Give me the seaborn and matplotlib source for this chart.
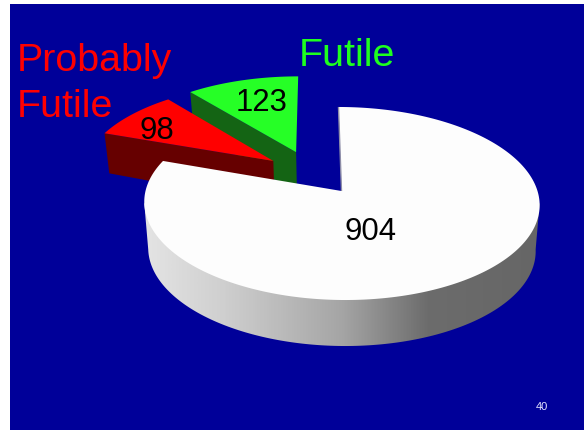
import numpy as np
import matplotlib
matplotlib.use("Agg")
import matplotlib.pyplot as plt
from matplotlib.colors import LinearSegmentedColormap
from matplotlib.patches import Polygon, Rectangle
import seaborn as sns

# Data
categories = ["Not futile", "Probably Futile", "Futile"]
counts = [904, 98, 123]
value_labels = ["904", "98", "123"]
page_number = "40"

# Styles
sns.set_theme(style="white")
plt.rcParams["font.family"] = ["Liberation Sans", "DejaVu Sans"]
BG = "#000099"
top_colors = ["#FDFDFD", "#FF0000", "#26FF26"]
side_colors = [None, "#660000", "#146414"]
label_colors = [None, "#FF0000", "#1EFF1E"]
shade_stops = [(0.0, "#E4E4E4"), (0.2, "#CFCFCF"), (0.5, "#A5A5A5"),
               (0.72, "#6C6C6C"), (1.0, "#666666")]

# Projection of the tilted disc
CX, CY = 341.5, 192.0
A, B, K, S = 196.0, 94.9, 0.1295, -3.4
explode = [(0.0, 0.0), (-0.357, 0.330), (-0.237, 0.432)]


def project(X, Y, lower=False):
    X, Y = np.asarray(X, float), np.asarray(Y, float)
    d = 1 + K * Y
    scale = 0.98 if lower else 1.0
    x = CX + scale * (A * X + S * Y) / d
    y = CY - B * Y / d
    if lower:
        y = y + 46 - 9 * np.clip(Y, 0, None)
    return x, y


def rim(t1, t2, off, lower=False, n=200):
    t = np.radians(np.linspace(t1, t2, n))
    return project(off[0] + np.cos(t), off[1] + np.sin(t), lower)


fig = plt.figure(figsize=(5.84, 4.31), dpi=100, facecolor="white")
ax = fig.add_axes([0, 0, 1, 1])
ax.set_xlim(0, 584)
ax.set_ylim(431, 0)
ax.axis("off")
ax.add_patch(Rectangle((10, 5), 574, 426, fc=BG, ec="none", zorder=0))

# Angles on the disc, clockwise from 12 o'clock: large wedge, then red, then green
sweep = np.array(counts) / sum(counts) * 360
ends = 90 - np.cumsum(sweep) + 360
wedge_lo = [ends[0] - 360, ends[1], ends[2]]
wedge_hi = [90.0, ends[0], ends[1]]

z = 2
for i in (2, 1):
    off = explode[i]
    c, s = np.cos(np.radians(wedge_hi[i])), np.sin(np.radians(wedge_hi[i]))
    rx, ry = project(off[0] + c, off[1] + s)
    rx2, ry2 = project(off[0] + c, off[1] + s, True)
    px, py = project(off[0], off[1])
    px2, py2 = project(off[0], off[1], True)
    ax.add_patch(Polygon([(rx, ry), (px, py), (px2, py2), (rx2, ry2)],
                         fc=side_colors[i], ec="none", zorder=z))
    tx, ty = rim(wedge_lo[i], wedge_hi[i], off)
    ax.add_patch(Polygon(np.r_[[[px, py]], np.c_[tx, ty]],
                         fc=top_colors[i], ec="none", zorder=z + 0.5))
    z += 1

# Large wedge: shaded wall between the silhouette points, then its top
ax0, ay0 = project(0, 0)
ux, uy = rim(187.4, 352.6, explode[0])
lx, ly = rim(187.4, 352.6, explode[0], True)
wall = Polygon(np.r_[np.c_[lx, ly], [[ux[-1], uy[-1]], [ax0, ay0], [ux[0], uy[0]]]],
               fc="none", ec="none", zorder=5)
ax.add_patch(wall)
cmap = LinearSegmentedColormap.from_list("wall", shade_stops)
grad = ax.imshow(np.linspace(0, 1, 400)[None, :], cmap=cmap, aspect="auto",
                 extent=(144, 540, 400, 100), zorder=5)
grad.set_clip_path(wall)
ax.set_xlim(0, 584)
ax.set_ylim(431, 0)

tx, ty = rim(wedge_lo[0], wedge_hi[0], explode[0], n=400)
ax.add_patch(Polygon(np.r_[[[ax0, ay0]], np.c_[tx, ty]],
                     fc=top_colors[0], ec="none", zorder=6))
ex, ey = project(0, 1)
ax.plot([ax0, ex], [ay0, ey], color="#8E8EA8", lw=1.0, zorder=6.5, solid_capstyle="butt")

# Text
ax.text(17, 71, "Probably", color=label_colors[1], fontsize=28.4, ha="left", va="baseline", zorder=8)
ax.text(17, 117, "Futile", color=label_colors[1], fontsize=28.4, ha="left", va="baseline", zorder=8)
ax.text(299, 66, categories[2], color=label_colors[2], fontsize=28.4, ha="left", va="baseline", zorder=8)
ax.text(371, 240, value_labels[0], color="black", fontsize=22.4, ha="center", va="baseline", zorder=8)
ax.text(157, 139, value_labels[1], color="black", fontsize=22.4, ha="center", va="baseline", zorder=8)
ax.text(262, 111, value_labels[2], color="black", fontsize=22.4, ha="center", va="baseline", zorder=8)
ax.text(542, 410, page_number, color="#E4E4FF", fontsize=8, ha="center", va="baseline", zorder=8)

fig.savefig("out.png", dpi=100, facecolor="white")
